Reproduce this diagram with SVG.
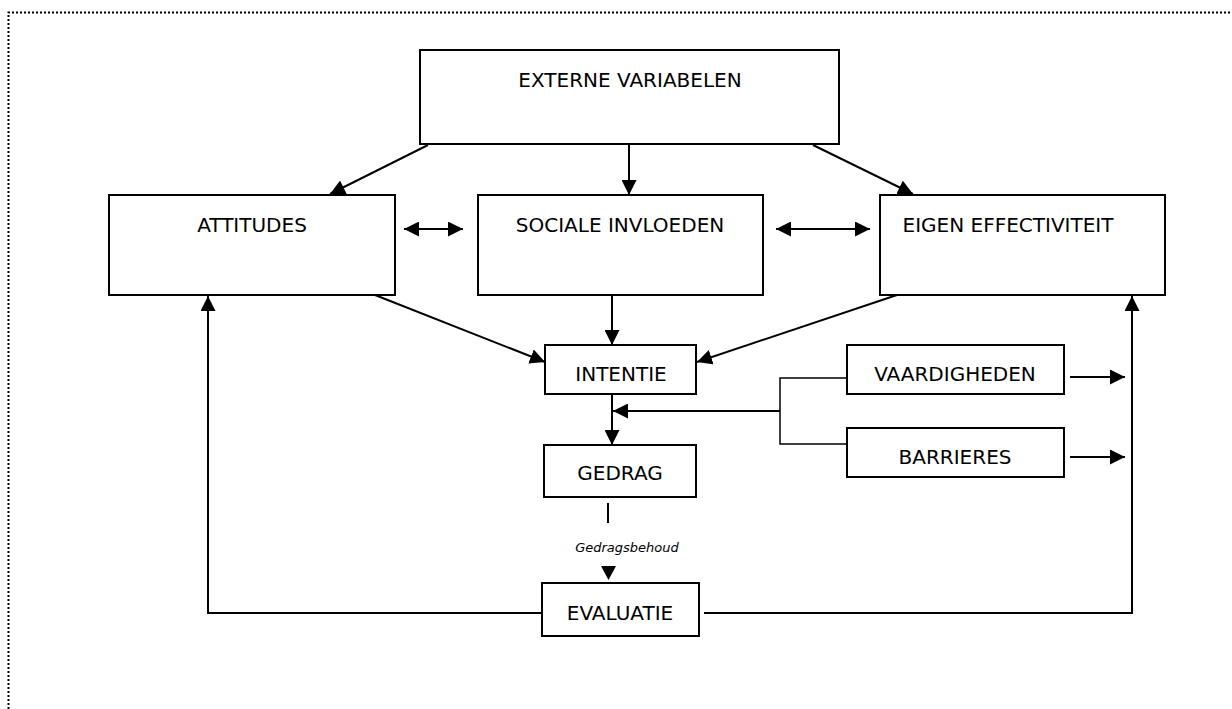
<svg xmlns="http://www.w3.org/2000/svg" width="1232" height="709" viewBox="0 0 1232 709">
<style>
.box{fill:#fff;stroke:#000;stroke-width:2}
.t{font-family:"DejaVu Sans",Verdana,sans-serif;font-size:20px;fill:#000;text-anchor:middle}
.s{font-family:"DejaVu Sans",Verdana,sans-serif;font-size:13px;font-style:italic;fill:#000;text-anchor:middle}
.c{fill:none;stroke:#000;stroke-width:2}
.c1{fill:none;stroke:#000;stroke-width:1.5}
</style>
<defs>
<marker id="ah" viewBox="0 0 10 10" refX="10" refY="5" markerWidth="7.5" markerHeight="7.5" markerUnits="strokeWidth" orient="auto-start-reverse">
<path d="M0,0 L10,5 L0,10 Z" fill="#000"/>
</marker>
</defs>
<path d="M8.5,709 V12.5 H1232" fill="none" stroke="#000" stroke-width="2" stroke-dasharray="2,2"/>
<g id="externe"><rect class="box" x="420" y="50" width="419" height="94"/><text class="t" x="630" y="87">EXTERNE VARIABELEN</text></g>
<g id="attitudes"><rect class="box" x="109" y="195" width="286" height="100"/><text class="t" x="252" y="232">ATTITUDES</text></g>
<g id="sociale"><rect class="box" x="478" y="195" width="285" height="100"/><text class="t" x="620" y="232">SOCIALE INVLOEDEN</text></g>
<g id="eigen"><rect class="box" x="880" y="195" width="285" height="100"/><text class="t" x="1008" y="232">EIGEN EFFECTIVITEIT</text></g>
<g id="intentie"><rect class="box" x="545" y="345" width="151" height="49"/><text class="t" x="621" y="381">INTENTIE</text></g>
<g id="gedrag"><rect class="box" x="544" y="445" width="152" height="52"/><text class="t" x="620" y="480">GEDRAG</text></g>
<g id="evaluatie"><rect class="box" x="542" y="583" width="157" height="53"/><text class="t" x="620" y="620">EVALUATIE</text></g>
<g id="vaardigheden"><rect class="box" x="847" y="345" width="217" height="49"/><text class="t" x="955" y="381">VAARDIGHEDEN</text></g>
<g id="barrieres"><rect class="box" x="847" y="428" width="217" height="49"/><text class="t" x="955" y="464">BARRIERES</text></g>
<g id="connectors">
<line class="c" x1="428" y1="145" x2="330" y2="194" marker-end="url(#ah)"/>
<line class="c" x1="629" y1="144" x2="629" y2="195" marker-end="url(#ah)"/>
<line class="c" x1="813" y1="145" x2="913" y2="194" marker-end="url(#ah)"/>
<line class="c" x1="404" y1="229" x2="463" y2="229" marker-start="url(#ah)" marker-end="url(#ah)"/>
<line class="c" x1="776" y1="229" x2="870" y2="229" marker-start="url(#ah)" marker-end="url(#ah)"/>
<line class="c" x1="375" y1="295" x2="545" y2="362" marker-end="url(#ah)"/>
<line class="c" x1="612" y1="295" x2="612" y2="345" marker-end="url(#ah)"/>
<line class="c" x1="897" y1="295" x2="697" y2="362" marker-end="url(#ah)"/>
<line class="c" x1="612" y1="394" x2="612" y2="445" marker-end="url(#ah)"/>
<path class="c1" d="M847,378 H780 V444 H847"/>
<line class="c" x1="780" y1="411" x2="613" y2="411" marker-end="url(#ah)"/>
<line class="c" x1="1070" y1="377" x2="1125" y2="377" marker-end="url(#ah)"/>
<line class="c" x1="1070" y1="457" x2="1125" y2="457" marker-end="url(#ah)"/>
<line class="c" x1="608" y1="503" x2="608" y2="523"/>
<text class="s" x="627" y="552">Gedragsbehoud</text>
<path d="M601,566 L616,566 L608.5,580 Z" fill="#000"/>
<path class="c" d="M542,613 H208 V296" marker-end="url(#ah)"/>
<path class="c" d="M704,613 H1132 V296" marker-end="url(#ah)"/>
</g>
</svg>
